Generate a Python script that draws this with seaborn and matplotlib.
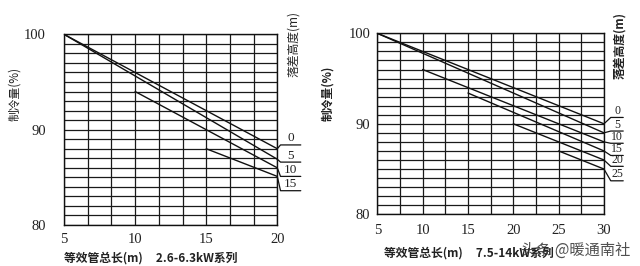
import matplotlib
matplotlib.use("Agg")
import matplotlib.pyplot as plt
from matplotlib.ticker import MultipleLocator, FixedLocator
import seaborn as sns
import pandas as pd

# ---------------- data ----------------
left_heights = [0, 5, 10, 15]
left_x_start = [5, 5, 10, 15]
left_y_start = [100, 100, 94, 88]
left_x_end = [20, 20, 20, 20]
left_y_end = [88.0, 86.9, 86.0, 85.1]
left_xticks = [5, 10, 15, 20]
left_title = "等效管总长(m)     2.6-6.3kW系列"

right_heights = [0, 5, 10, 15, 20, 25]
right_x_start = [5, 5, 10, 15, 20, 25]
right_y_start = [100, 100, 96, 93.4, 90, 87]
right_x_end = [30, 30, 30, 30, 30, 30]
right_y_end = [90, 89, 88, 87, 86, 85]
right_xticks = [5, 10, 15, 20, 25, 30]
right_title = "等效管总长(m)     7.5-14kW系列"

yticks = [80, 90, 100]
ylabel = "制冷量(%)"
rlabel = "落差高度(m)"
watermark = "头条 @暖通南社"

sns.set_theme(style="white")
plt.rcParams['font.family'] = ['Liberation Serif', 'Noto Sans CJK SC', 'DejaVu Sans']

fig = plt.figure(figsize=(6.4, 2.66), dpi=100)
fig.patch.set_facecolor("white")

def make_df(h, xs, ys, xe, ye):
    rows = []
    for hh, a, b, c, d in zip(h, xs, ys, xe, ye):
        rows.append({"h": str(hh), "x": a, "y": b})
        rows.append({"h": str(hh), "x": c, "y": d})
    return pd.DataFrame(rows)

def panel(rect, heights, xs, ys, xe, ye, xticks, xgrid, label_y, label_x,
          ytick_pad, xtick_pad, label_fs):
    ax = fig.add_axes(rect)
    df = make_df(heights, xs, ys, xe, ye)
    pal = {str(h): "#111111" for h in heights}
    sns.lineplot(data=df, x="x", y="y", hue="h", palette=pal, legend=False,
                 sort=False, estimator=None, ax=ax, linewidth=1.0, zorder=3)
    ax.set_xlim(xticks[0], xticks[-1])
    ax.set_ylim(80, 100)
    ax.xaxis.set_major_locator(FixedLocator(xticks))
    ax.xaxis.set_minor_locator(MultipleLocator(xgrid))
    ax.yaxis.set_major_locator(FixedLocator(yticks))
    ax.yaxis.set_minor_locator(MultipleLocator(1))
    ax.grid(which="both", color="#1a1a1a", linewidth=0.9)
    ax.tick_params(which="both", length=0)
    ax.tick_params(axis="y", pad=ytick_pad, labelsize=10.5, colors="#222222")
    ax.tick_params(axis="x", pad=xtick_pad, labelsize=10.5, colors="#222222")
    ax.set_xlabel("")
    ax.set_ylabel("")
    for s in ax.spines.values():
        s.set_color("#111111")
        s.set_linewidth(1.0)
    # leader lines + height labels
    x_end = xticks[-1]
    span = xticks[-1] - xticks[0]
    for h, yend, ly in zip(heights, ye, label_y):
        x0 = x_end + label_x[0] * span
        x1 = x_end + label_x[1] * span
        ax.plot([x_end, x0, x1], [yend, ly, ly], color="#111111", lw=0.9, clip_on=False)
        ax.text((x0 + x1) / 2, ly + 0.05, str(h), ha="center", va="bottom",
                fontsize=label_fs, color="#222222", linespacing=1.0)
    return ax

axL = panel([0.1, 0.154, 0.3333, 0.717], left_heights, left_x_start, left_y_start,
            left_x_end, left_y_end, left_xticks, 5 / 3,
            [88.4, 86.6, 85.1, 83.6], (0.015, 0.11), 13, 6, 9.5)
axR = panel([0.5895, 0.1944, 0.3542, 0.6804], right_heights, right_x_start, right_y_start,
            right_x_end, right_y_end, right_xticks, 2.5,
            [90.7, 89.2, 87.85, 86.5, 85.3, 83.7], (0.03, 0.085), 5, 7, 8.5)

# axis titles
cjk = ['Noto Sans CJK SC', 'DejaVu Sans']
fig.text(0.022, 0.645, ylabel, rotation=90, ha="center", va="center",
         fontsize=8.5, family=cjk, color="#222222")
fig.text(0.513, 0.65, ylabel, rotation=90, ha="center", va="center",
         fontsize=8.5, family=cjk, color="#222222", weight="bold")
fig.text(0.459, 0.835, rlabel, rotation=90, ha="center", va="center",
         fontsize=8.5, family=cjk, color="#222222")
fig.text(0.969, 0.83, rlabel, rotation=90, ha="center", va="center",
         fontsize=8.5, family=cjk, color="#222222", weight="bold")
fig.text(0.1, 0.03, left_title, ha="left", va="center", fontsize=8.5,
         family=cjk, weight="bold", color="#222222")
fig.text(0.6, 0.05, right_title, ha="left", va="center", fontsize=8.5,
         family=cjk, weight="bold", color="#222222")
fig.text(0.985, 0.06, watermark, ha="right", va="center", fontsize=11,
         family=cjk, color="#333333", alpha=0.85)

fig.savefig("out.png", dpi=100, facecolor="white")
